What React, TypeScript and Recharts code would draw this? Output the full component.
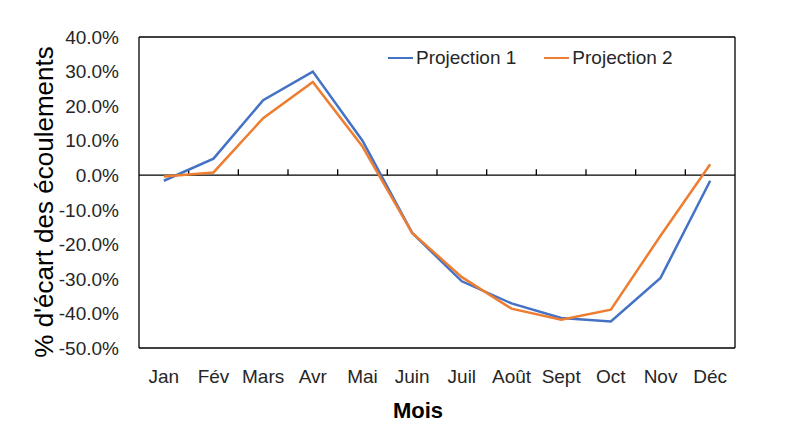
import { LineChart, Line, XAxis, YAxis, ReferenceLine, Legend, Label } from "recharts";

const MONTHS = ["Jan", "Fév", "Mars", "Avr", "Mai", "Juin", "Juil", "Août", "Sept", "Oct", "Nov", "Déc"];
const PROJECTION_1 = [-1.6, 4.8, 21.7, 30.0, 10.0, -16.7, -30.7, -37.1, -41.3, -42.3, -29.7, -1.6];
const PROJECTION_2 = [-0.4, 0.8, 16.5, 27.0, 8.3, -16.7, -29.5, -38.6, -41.8, -38.9, -17.5, 3.2];
const Y_TICKS = [-50, -40, -30, -20, -10, 0, 10, 20, 30, 40];

const BLUE = "#4472C4";
const ORANGE = "#ED7D31";
const TEXT = "#262626";
const FONT = "'Liberation Sans', Arial, sans-serif";

const data = MONTHS.map((month, i) => ({
  month,
  p1: PROJECTION_1[i],
  p2: PROJECTION_2[i],
}));

// zero line with small tick marks between the month categories, pointing up
function ZeroAxis(props: any) {
  const { x1, y1, x2 } = props;
  const step = (x2 - x1) / MONTHS.length;
  const ticks = [];
  for (let i = 1; i < MONTHS.length; i++) {
    const x = x1 + i * step;
    ticks.push(<line key={i} x1={x} x2={x} y1={y1} y2={y1 - 6} stroke="#000" strokeWidth={1.3} />);
  }
  return (
    <g>
      <line x1={x1} x2={x2} y1={y1} y2={y1} stroke="#000" strokeWidth={1.3} />
      {ticks}
    </g>
  );
}

function LegendContent() {
  const items = [
    { name: "Projection 1", color: BLUE },
    { name: "Projection 2", color: ORANGE },
  ];
  return (
    <div style={{ display: "flex", gap: 28, fontFamily: FONT, fontSize: 19, color: TEXT, whiteSpace: "nowrap" }}>
      {items.map((item) => (
        <div key={item.name} style={{ display: "flex", alignItems: "center", gap: 3 }}>
          <span style={{ display: "inline-block", width: 25, height: 2.5, background: item.color }} />
          <span>{item.name}</span>
        </div>
      ))}
    </div>
  );
}

export default function App() {
  return (
    <div style={{ position: "absolute", left: 0, top: 0, width: 800, height: 442, background: "#fff" }}>
      <LineChart
        width={800}
        height={442}
        data={data}
        margin={{ top: 36, right: 64, bottom: 34, left: 0 }}
        style={{ fontFamily: FONT }}
      >
        <XAxis
          dataKey="month"
          height={60}
          padding={{ left: 24.8, right: 24.8 }}
          axisLine={{ stroke: "#000", strokeWidth: 1.3 }}
          tickLine={false}
          tickMargin={16}
          interval={0}
          tick={{ fontSize: 19, fill: TEXT }}
        >
          <Label
            content={() => (
              <text x={418} y={410} textAnchor="middle" dominantBaseline="central" fontSize={22} fontWeight="bold" fill="#000" fontFamily={FONT}>
                Mois
              </text>
            )}
          />
        </XAxis>
        <XAxis
          xAxisId="top"
          dataKey="month"
          orientation="top"
          height={1}
          ticks={MONTHS}
          axisLine={{ stroke: "#000", strokeWidth: 1.3 }}
          tick={false}
          tickLine={false}
        />
        <YAxis
          width={139}
          domain={[-50, 40]}
          ticks={Y_TICKS}
          interval={0}
          axisLine={{ stroke: "#000", strokeWidth: 1.3 }}
          tickLine={false}
          tickMargin={14}
          tick={{ fontSize: 19, fill: TEXT }}
          tickFormatter={(v: number) => `${v.toFixed(1)}%`}
        >
          <Label
            content={() => (
              <text x={44} y={202} transform="rotate(-90 44 202)" textAnchor="middle" dominantBaseline="central" fontSize={26} fill="#000" fontFamily={FONT}>
                % d'écart des écoulements
              </text>
            )}
          />
        </YAxis>
        <YAxis
          yAxisId="right"
          orientation="right"
          width={1}
          domain={[0, 1]}
          ticks={[0, 1]}
          axisLine={{ stroke: "#000", strokeWidth: 1.3 }}
          tick={false}
          tickLine={false}
        />
        <ReferenceLine y={0} shape={ZeroAxis} />
        <Legend
          verticalAlign="middle"
          align="center"
          content={LegendContent}
          wrapperStyle={{ top: 47, left: 388, width: "auto" }}
        />
        <Line type="linear" dataKey="p1" name="Projection 1" stroke={BLUE} strokeWidth={2.5} dot={false} isAnimationActive={false} />
        <Line type="linear" dataKey="p2" name="Projection 2" stroke={ORANGE} strokeWidth={2.5} dot={false} isAnimationActive={false} />
      </LineChart>
    </div>
  );
}
